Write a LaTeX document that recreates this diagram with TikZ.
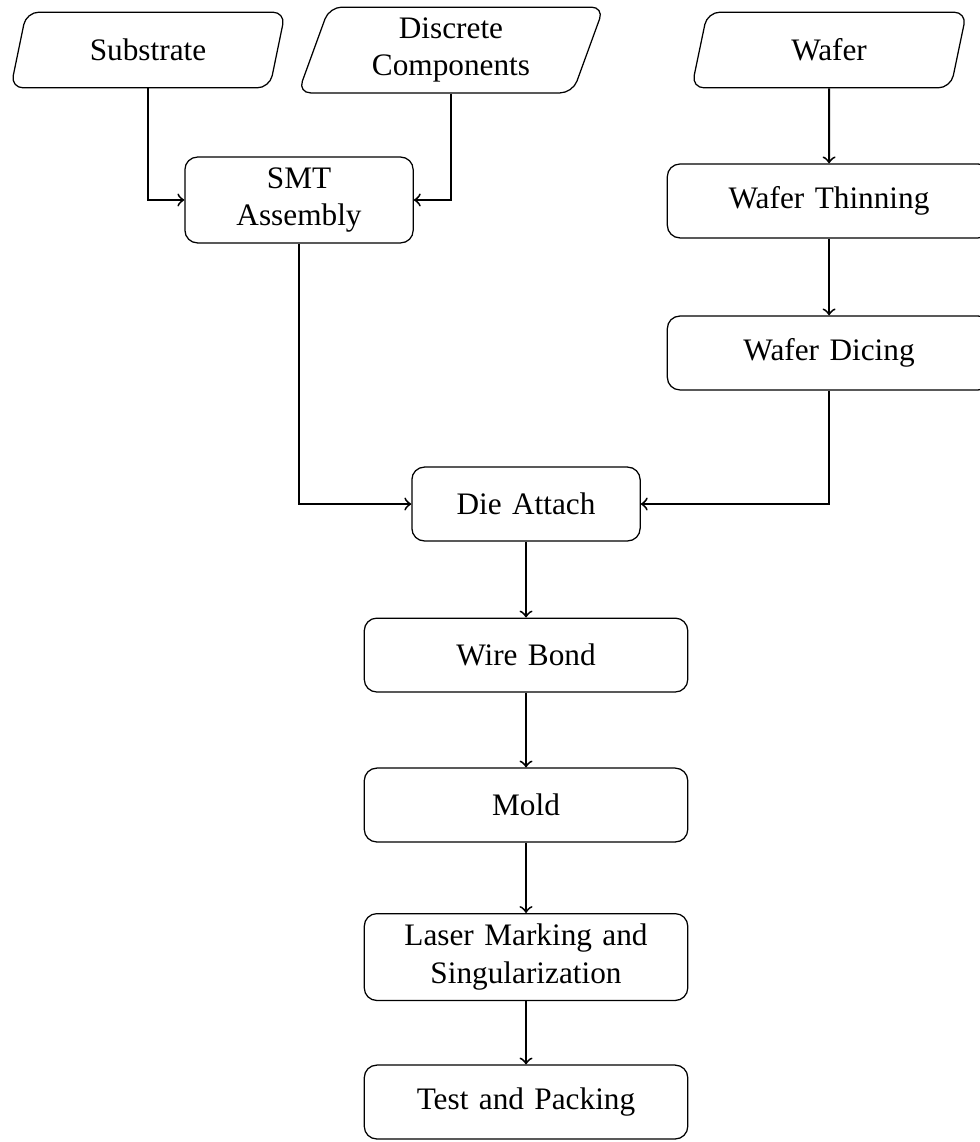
\documentclass[tikz,border=0pt]{standalone}
\usepackage{fontspec}
\setmainfont{Liberation Serif}
\usetikzlibrary{shapes.geometric}

\begin{document}
\begin{tikzpicture}[
    process/.style={draw, rounded corners, text width=3.4cm, align=center, minimum height=0.83cm},
    shortproc/.style={process, text width=2.33cm},
    source/.style={draw, rounded corners, trapezium, trapezium left angle=70, trapezium right angle=110,
      trapezium stretches=true, text width=2.5cm, align=center, minimum height=0.85cm},
    flow/.style={->, semithick}]
  \useasboundingbox (0,0) rectangle (11,-12.831);

  % inputs
  \node[source] (sub) at (1.663,-0.562) {Substrate};
  \node[source] (disc) at (5.067,-0.562) {Discrete\\Components};
  \node[source] (wafer) at (9.315,-0.562) {Wafer};

  % process steps
  \node[shortproc] (smt) at (3.360,-2.247) {SMT\\Assembly};
  \node[process] (thin) at (9.315,-2.258) {Wafer Thinning};
  \node[process] (dice) at (9.315,-3.966) {Wafer Dicing};
  \node[shortproc] (die) at (5.910,-5.663) {Die Attach};
  \node[process] (wire) at (5.910,-7.360) {Wire Bond};
  \node[process] (mold) at (5.910,-9.045) {Mold};
  \node[process] (laser) at (5.910,-10.753) {Laser Marking and\\Singularization};
  \node[process] (test) at (5.910,-12.382) {Test and Packing};

  \draw[flow] (sub.south) |- (smt.west);
  \draw[flow] (disc.south) |- (smt.east);
  \draw[flow] (wafer) -- (thin);
  \draw[flow] (thin) -- (dice);
  \draw[flow] (smt.south) |- (die.west);
  \draw[flow] (dice.south) |- (die.east);
  \draw[flow] (die) -- (wire);
  \draw[flow] (wire) -- (mold);
  \draw[flow] (mold) -- (laser);
  \draw[flow] (laser) -- (test);
\end{tikzpicture}
\end{document}
